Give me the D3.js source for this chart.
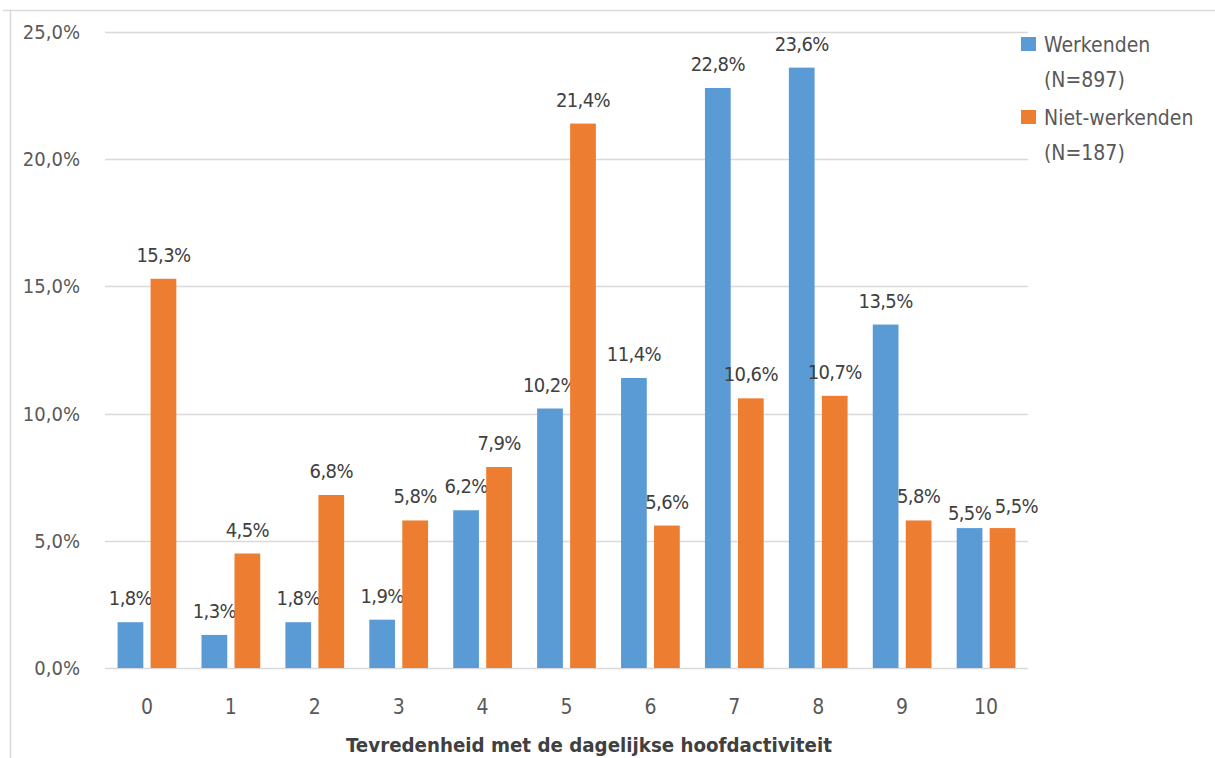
<!DOCTYPE html>
<html><head><meta charset="utf-8">
<script src="https://cdn.jsdelivr.net/npm/d3@7"></script>
<style>
html,body{margin:0;padding:0;background:#fff;}
svg{display:block;font-family:"DejaVu Sans Condensed","DejaVu Sans",sans-serif;}
</style></head>
<body>
<svg id="c" width="1215" height="758"></svg>
<script>
const categories = ["0","1","2","3","4","5","6","7","8","9","10"];
const werkenden = [1.8,1.3,1.8,1.9,6.2,10.2,11.4,22.8,23.6,13.5,5.5];
const nietWerkenden = [15.3,4.5,6.8,5.8,7.9,21.4,5.6,10.6,10.7,5.8,5.5];
const seriesNames = ["Werkenden (N=897)","Niet-werkenden (N=187)"];
const yTicks = [0,5,10,15,20,25];
const xTitle = "Tevredenheid met de dagelijkse hoofdactiviteit";

const colors = ["#5b9bd5","#ed7d31"];
const svg = d3.select("#c");
const m = {l:105, r:1028, t:32, b:668};

// frame
svg.append("line").attr("x1",10.5).attr("x2",10.5).attr("y1",10).attr("y2",758).attr("stroke","#d9d9d9").attr("stroke-width",1.5);
svg.append("line").attr("x1",3).attr("x2",1215).attr("y1",10.5).attr("y2",10.5).attr("stroke","#d9d9d9").attr("stroke-width",1.5);

const x = d3.scaleBand().domain(categories).range([m.l,m.r]).paddingInner(0.3).paddingOuter(0.15);
const x1 = d3.scaleBand().domain([0,1]).range([0,x.bandwidth()]).paddingInner(0.22);
const y = d3.scaleLinear().domain([0,25]).range([m.b,m.t]);

// gridlines
svg.append("g").selectAll("line").data(yTicks).join("line")
  .attr("x1",m.l).attr("x2",m.r).attr("y1",d=>Math.round(y(d))+0.5).attr("y2",d=>Math.round(y(d))+0.5)
  .attr("stroke","#d9d9d9").attr("stroke-width",1.5);

// y labels
const fmt = d => d.toFixed(1).replace(".",",")+"%";
svg.append("g").selectAll("text").data(yTicks).join("text")
  .attr("x",80).attr("y",d=>y(d)+7).attr("text-anchor","end")
  .attr("font-size",20).attr("fill","#595959").text(fmt);

// x labels
svg.append("g").selectAll("text").data(categories).join("text")
  .attr("x",d=>x(d)+x.bandwidth()/2).attr("y",714).attr("text-anchor","middle")
  .attr("font-size",21).attr("fill","#595959").text(d=>d);

svg.append("text").attr("x",589).attr("y",752).attr("text-anchor","middle")
  .attr("font-size",20.3).attr("font-weight","bold").attr("fill","#404040").text(xTitle);

const series = [werkenden,nietWerkenden];
const labelSel = [];
series.forEach((vals,si)=>{
  const g = svg.append("g");
  g.selectAll("rect").data(vals).join("rect")
    .attr("x",(d,i)=>x(categories[i])+x1(si))
    .attr("width",x1.bandwidth())
    .attr("y",d=>y(d)).attr("height",d=>y(0)-y(d))
    .attr("fill",colors[si]);
  labelSel.push(g.selectAll("text").data(vals).join("text")
    .attr("x",(d,i)=>x(categories[i])+x1(si)+x1.bandwidth()/2)
    .attr("y",d=>y(d)-17).attr("text-anchor","middle")
    .attr("font-size",20).attr("letter-spacing",-0.6).attr("fill","#404040")
    .text(d=>fmt(d)));
});

// simple label collision avoidance (like Excel): nudge apart overlapping pairs
categories.forEach((c,i)=>{
  const a = labelSel[0].nodes()[i], b = labelSel[1].nodes()[i];
  const ba = a.getBBox(), bb = b.getBBox();
  const overlapX = (ba.x+ba.width) - bb.x;
  const overlapY = Math.min(ba.y+ba.height, bb.y+bb.height) - Math.max(ba.y, bb.y);
  if (overlapX > -2 && overlapY > 0) {
    b.setAttribute("x", +b.getAttribute("x") + overlapX + 3);
    b.setAttribute("y", +b.getAttribute("y") + 2);
    a.setAttribute("y", +a.getAttribute("y") + 9);
  }
});

// legend
const lg = svg.append("g");
const legendY = [37,110];
seriesNames.forEach((n,i)=>{
  lg.append("rect").attr("x",1021).attr("y",legendY[i]).attr("width",15).attr("height",14).attr("fill",colors[i]);
  const parts = n.split(" ");
  lg.append("text").attr("x",1044).attr("y",legendY[i]+15).attr("font-size",21).attr("fill","#595959").text(parts[0]);
  lg.append("text").attr("x",1044).attr("y",legendY[i]+50).attr("font-size",21).attr("fill","#595959").text(parts[1]);
});
</script>
</body></html>
